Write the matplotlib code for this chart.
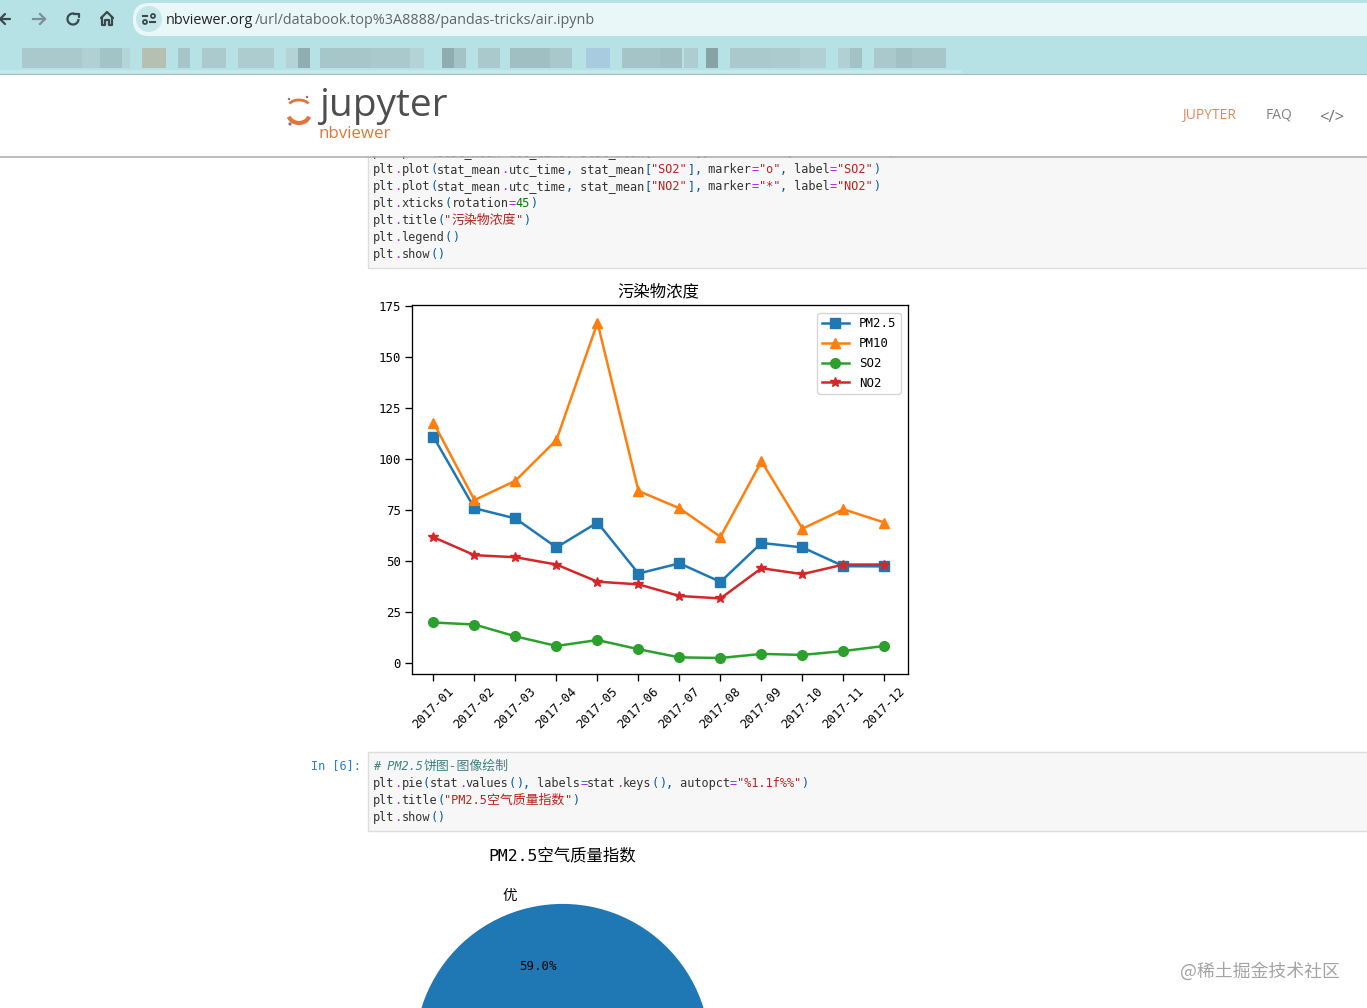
import re
import matplotlib
matplotlib.use("Agg")
import matplotlib.pyplot as plt
from matplotlib.patches import Rectangle, FancyBboxPatch, Arc, Circle

W, H = 1367, 1008

months = ["2017-01", "2017-02", "2017-03", "2017-04", "2017-05", "2017-06",
          "2017-07", "2017-08", "2017-09", "2017-10", "2017-11", "2017-12"]
pm25 = [111, 76, 71, 56.8, 69, 44, 49, 39.9, 59, 56.8, 47.6, 47.5]
pm10 = [118, 80, 89.5, 109.5, 167, 84.5, 76, 62, 99, 66, 75.5, 69]
so2 = [20, 19, 13.2, 8.5, 11.4, 6.9, 2.9, 2.6, 4.6, 4.1, 6, 8.5]
no2 = [61.8, 53, 52, 48.4, 40, 38.7, 33, 31.8, 46.6, 43.7, 48.4, 48.4]

# only the first slice of the pie is inside the screenshot
pie_labels = ["优", ""]
pie_values = [59.0, 41.0]

code_top = [
    'plt.plot(stat_mean.utc_time, stat_mean["PM10"], marker="^", label="PM10")',
    'plt.plot(stat_mean.utc_time, stat_mean["SO2"], marker="o", label="SO2")',
    'plt.plot(stat_mean.utc_time, stat_mean["NO2"], marker="*", label="NO2")',
    'plt.xticks(rotation=45)',
    'plt.title("污染物浓度")',
    'plt.legend()',
    'plt.show()',
]
code_pie = [
    'plt.pie(stat.values(), labels=stat.keys(), autopct="%1.1f%%")',
    'plt.title("PM2.5空气质量指数")',
    'plt.show()',
]
url_host = "nbviewer.org"
url_path = "/url/databook.top%3A8888/pandas-tricks/air.ipynb"

mono = ["DejaVu Sans Mono", "Noto Sans CJK SC"]
plt.rcParams["font.family"] = mono

fig = plt.figure(figsize=(W / 100, H / 100), dpi=100)
page = fig.add_axes([0, 0, 1, 1])
page.set_xlim(0, W)
page.set_ylim(H, 0)
page.axis("off")


def is_cjk(c):
    return ord(c) > 0x2E80


def code_line(x, y, line):
    # tokens placed one after the other, ascii 7.14 px, cjk 12.9 px
    for tok in re.findall(r'"[^"]*"|\d+|[.=,]|[()\[\]]|[^"\d.=,()\[\]]+', line):
        if tok[0] == '"':
            col = "#ba2121"
        elif tok.isdigit():
            col = "#008000"
        elif tok in ".=":
            col = "#aa22ff"
        elif tok in "()[],":
            col = "#0055aa"
        else:
            col = "#333333"
        for run in re.findall(r"[\u2e80-\uffff]+|[^\u2e80-\uffff]+", tok):
            cjk = is_cjk(run[0])
            page.text(x, y, run, color=col, fontsize=9.3 if cjk else 8.55,
                      va="center", ha="left", zorder=3)
            x += len(run) * (12.9 if cjk else 7.14)


# browser chrome
page.add_patch(Rectangle((0, 0), W, 75, fc="#b6e1e5", ec="none", zorder=1))
page.add_patch(FancyBboxPatch((133, 3), W, 33, boxstyle="round,pad=0,rounding_size=16",
                              fc="#eaf7f8", ec="none", zorder=2))
page.add_patch(Circle((149, 19), 13, fc="#c5e7ea", ec="none", zorder=2))
page.plot([0, W], [74.5, 74.5], color="#9fb4bb", lw=1.2, zorder=2)

# the bookmarks row is pixelated in the screenshot
blocks = [(22, 60, "#a9c9cc"), (82, 20, "#b0d0d3"), (100, 22, "#a3c4c7"), (122, 8, "#b4d4d7"),
          (142, 24, "#b5bfb2"), (178, 12, "#a5c5c9"), (202, 24, "#aacacd"), (238, 36, "#acccd0"),
          (286, 12, "#b3d3d6"), (298, 12, "#8faeb1"), (320, 50, "#a6c6c9"), (370, 40, "#a9c9cc"),
          (410, 14, "#b3d3d6"), (442, 12, "#8fadb0"), (454, 12, "#a4c3c6"), (478, 22, "#a9c9cc"),
          (510, 40, "#9fbfc2"), (550, 22, "#a8c8cb"), (586, 24, "#a8cbe0"), (622, 38, "#a4c4c7"),
          (660, 22, "#a0c0c3"), (684, 14, "#adcdd0"), (706, 12, "#86a3a6"), (730, 40, "#a9c9cc"),
          (770, 30, "#abcbce"), (800, 26, "#b0d0d3"), (838, 12, "#b0d0d3"), (850, 12, "#a2c2c5"),
          (874, 22, "#a9c9cc"), (896, 16, "#a0c0c3"), (912, 34, "#a6c6c9")]
for bx, bw, bc in blocks:
    page.add_patch(Rectangle((bx, 48), bw, 20, fc=bc, ec="none", zorder=2))
page.plot([0, 960], [70.5, 70.5], color="#c8e8eb", lw=2, zorder=2)

# toolbar icons
icon = dict(color="#3a4a4c", lw=1.6, zorder=3, solid_capstyle="round")
page.plot([0, 10], [19, 19], **icon)
page.plot([5, 0, 5], [14, 19, 24], **icon)
page.plot([33, 45], [19, 19], color="#7f9094", lw=1.6, zorder=3)
page.plot([40, 45, 40], [14, 19, 24], color="#7f9094", lw=1.6, zorder=3)
page.add_patch(Arc((73, 19), 11, 11, theta1=0, theta2=285, color="#3a4a4c", lw=1.6, zorder=3))
page.plot([74, 79, 79], [13.5, 13.5, 17], **icon)
page.plot([101, 107, 113], [18, 12, 18], **icon)
page.plot([102, 102, 105, 105, 109, 109, 112, 112], [17, 25, 25, 20, 20, 25, 25, 17], **icon)
page.plot([143, 147], [16, 16], color="#3a4a4c", lw=1.5, zorder=3)
page.plot([150, 155], [22, 22], color="#3a4a4c", lw=1.5, zorder=3)
page.add_patch(Circle((145, 22), 2, fc="none", ec="#3a4a4c", lw=1.3, zorder=3))
page.add_patch(Circle((153, 16), 2, fc="none", ec="#3a4a4c", lw=1.3, zorder=3))
t = page.text(166, 20, url_host, family="Open Sans", fontsize=10.4, color="#222222",
              va="center", zorder=3)
fig.canvas.draw()
host_w = t.get_window_extent().width
page.text(166 + host_w + 1, 20, url_path, family="Open Sans", fontsize=10.4, color="#5c6668",
          va="center", zorder=3)

# code cells
page.add_patch(Rectangle((368, 130), W, 137.5, fc="#f7f7f7", ec="#dddddd", lw=1, zorder=1))
for i, line in enumerate(code_top):
    code_line(373, 152.5 + 17 * i, line)

page.add_patch(Rectangle((368, 751.5), W, 79, fc="#f7f7f7", ec="#dddddd", lw=1, zorder=1))
page.text(373, 766, "# PM2.5", color="#408080", style="italic", fontsize=8.55, va="center", zorder=3)
page.text(424, 766, "饼图-图像绘制", color="#408080", style="italic", fontsize=9.3,
          va="center", zorder=3)
for i, line in enumerate(code_pie):
    code_line(373, 783.5 + 17 * i, line)
page.text(311, 766, "In [6]:", color="#307fc1", fontsize=8.55, va="center", zorder=3)

# nbviewer header sits over the scrolled code
page.add_patch(Rectangle((0, 75), W, 81, fc="white", ec="none", zorder=5))
page.plot([0, W], [156.5, 156.5], color="#b0b0b0", lw=1.2, zorder=6)
page.text(319, 106, "jupyter", family="Open Sans", fontsize=28, color="#4e4e4e",
          va="center", ha="left", zorder=6)
page.text(318, 134, "nbviewer", family="Open Sans", fontsize=12.2, color="#e4753a",
          va="center", ha="left", zorder=6)
page.add_patch(Arc((299, 107), 22, 14, theta1=200, theta2=340, color="#e4753a", lw=2, zorder=6))
page.add_patch(Arc((299, 113), 22, 20, theta1=20, theta2=160, color="#e4753a", lw=3, zorder=6))
page.add_patch(Circle((289, 99), 1.2, fc="#777777", ec="none", zorder=6))
page.add_patch(Circle((307, 97), 1.2, fc="#777777", ec="none", zorder=6))
page.add_patch(Circle((290, 124), 1.6, fc="#777777", ec="none", zorder=6))
page.text(1182, 115, "JUPYTER", family="Open Sans", fontsize=10, color="#e4875a", va="center", zorder=6)
page.text(1266, 115, "FAQ", family="Open Sans", fontsize=10, color="#808080", va="center", zorder=6)
page.text(1332, 118, "</>", family="Open Sans", fontsize=12, color="#707070",
          va="center", ha="center", zorder=6)

# line chart
ax = fig.add_axes([412 / W, 1 - 674 / H, 496 / W, 368.5 / H])
ax.plot(months, pm25, marker="s", label="PM2.5", lw=1.8, ms=7)
ax.plot(months, pm10, marker="^", label="PM10", lw=1.8, ms=7)
ax.plot(months, so2, marker="o", label="SO2", lw=1.8, ms=7)
ax.plot(months, no2, marker="*", label="NO2", lw=1.8, ms=7)
ax.set_xlim(-0.524, 11.574)
ax.set_ylim(-5.25, 175.4)
ax.set_yticks(range(0, 176, 25))
ax.tick_params(labelsize=8.9, length=5, width=0.95, pad=3)
ax.tick_params(axis="x", labelrotation=45)
for spine in ax.spines.values():
    spine.set_linewidth(0.95)
ax.set_title("污染物浓度", fontsize=11.8, pad=6.5, x=0.496)
ax.legend(loc="upper right", fontsize=8.9, borderaxespad=0.6, labelspacing=0.55,
          handlelength=2.2, borderpad=0.35)

# pie, mostly below the bottom edge of the screenshot
ax2 = fig.add_axes([378 / W, 1 - 1236 / H, 369 / W, 369 / H])
ax2.pie(pie_values, labels=pie_labels, autopct=lambda p: "%1.1f%%" % p if p > 50 else "",
        textprops={"fontsize": 8.9})
for lab in ax2.texts:
    if lab.get_text() == "优":
        lab.set_fontsize(10.5)
ax2.set_xlim(-1.25, 1.25)
ax2.set_ylim(-1.25, 1.25)
page.text(562.5, 855, "PM2.5空气质量指数", fontsize=11.8, color="black", ha="center",
          va="center", zorder=3)

page.text(1180, 971, "@稀土掘金技术社区", family=["Noto Sans CJK SC"], fontsize=12.9,
          color="#9a9a9a", alpha=0.9, va="center", zorder=3)

fig.savefig("out.png", dpi=100)
